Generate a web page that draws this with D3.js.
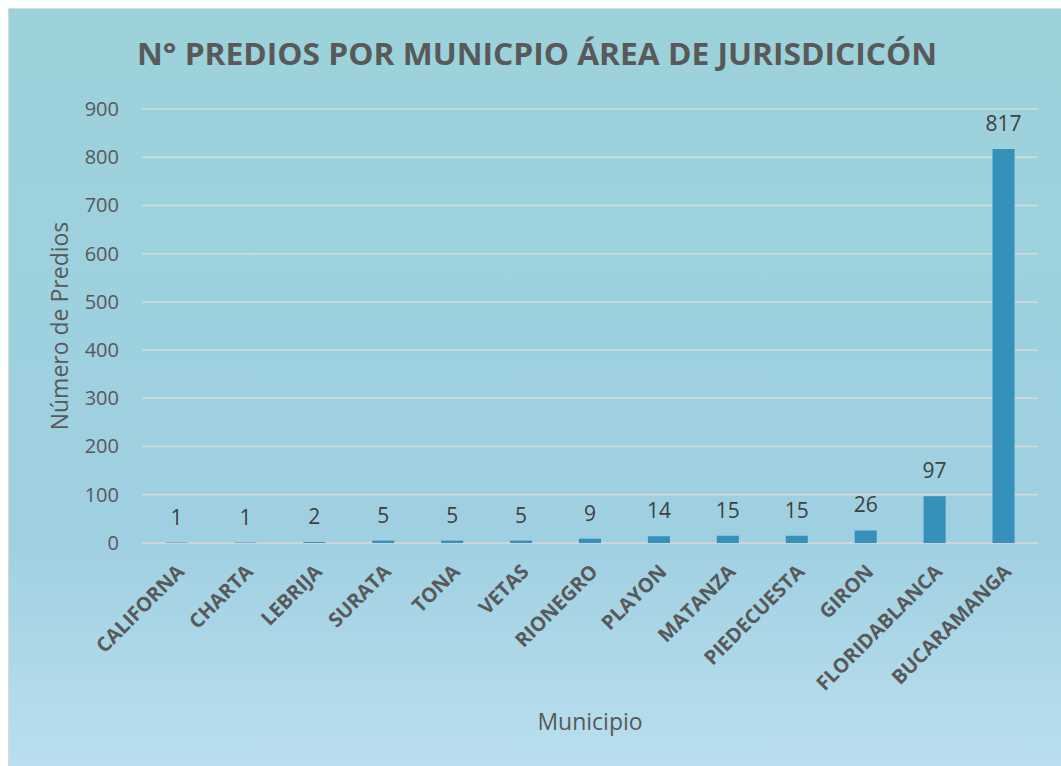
<!DOCTYPE html>
<html>
<head>
<meta charset="utf-8">
<script src="https://cdn.jsdelivr.net/npm/d3@7"></script>
<style>
  body { margin: 0; background: #fff; }
  svg { display: block; }
</style>
</head>
<body>
<div id="chart"></div>
<script>
// data
var municipios = ["CALIFORNA", "CHARTA", "LEBRIJA", "SURATA", "TONA", "VETAS", "RIONEGRO",
  "PLAYON", "MATANZA", "PIEDECUESTA", "GIRON", "FLORIDABLANCA", "BUCARAMANGA"];
var predios = [1, 1, 2, 5, 5, 5, 9, 14, 15, 15, 26, 97, 817];
var yTicks = [0, 100, 200, 300, 400, 500, 600, 700, 800, 900];

var W = 1061, H = 766;
var margin = {top: 109, right: 23, bottom: 223, left: 142};
var width = W - margin.left - margin.right,
    height = H - margin.top - margin.bottom;

var svg = d3.select("#chart").append("svg")
  .attr("width", W)
  .attr("height", H);

var grad = svg.append("defs").append("linearGradient")
  .attr("id", "bg").attr("x1", 0).attr("y1", 0).attr("x2", 0).attr("y2", 1);
grad.append("stop").attr("offset", "0%").attr("stop-color", "#9cd2da");
grad.append("stop").attr("offset", "70%").attr("stop-color", "#9fd0e2");
grad.append("stop").attr("offset", "100%").attr("stop-color", "#badfee");

svg.append("rect")
  .attr("x", 8.5).attr("y", 8.5)
  .attr("width", W - 8).attr("height", H - 8)
  .attr("fill", "url(#bg)")
  .attr("stroke", "#d9d9d9");

var g = svg.append("g")
  .attr("transform", `translate(${margin.left}, ${margin.top})`);

var x = d3.scaleBand()
  .domain(municipios)
  .range([0, width])
  .paddingInner(0.68)
  .paddingOuter(0.34);

var y = d3.scaleLinear()
  .domain([0, 900])
  .range([height, 0]);

// gridlines
g.append("g")
  .selectAll("line")
  .data(yTicks)
  .join("line")
    .attr("x1", 0).attr("x2", width)
    .attr("y1", d => y(d)).attr("y2", d => y(d))
    .attr("stroke", "#d9d9d9")
    .attr("stroke-width", 1.5);

// y axis
var yAxis = g.append("g")
  .call(d3.axisLeft(y).tickValues(yTicks).tickSize(0).tickPadding(23));
yAxis.select(".domain").remove();
yAxis.selectAll("text")
  .attr("fill", "#595959")
  .style("font-family", "Open Sans")
  .style("font-size", "20px");

// bars
g.append("g")
  .selectAll("rect")
  .data(predios)
  .join("rect")
    .attr("x", (d, i) => x(municipios[i]))
    .attr("y", d => y(d))
    .attr("width", x.bandwidth())
    .attr("height", d => height - y(d))
    .attr("fill", "#3591b9");

// value labels
g.append("g")
  .selectAll("text")
  .data(predios)
  .join("text")
    .attr("x", (d, i) => x(municipios[i]) + x.bandwidth() / 2)
    .attr("y", d => y(d) - 18)
    .attr("text-anchor", "middle")
    .attr("fill", "#404040")
    .style("font-family", "Open Sans")
    .style("font-size", "21px")
    .text(d => d);

// x axis labels
var xAxis = g.append("g")
  .attr("transform", `translate(0, ${height})`)
  .call(d3.axisBottom(x).tickSize(0).tickPadding(0));
xAxis.select(".domain").remove();
xAxis.selectAll("text")
  .attr("text-anchor", "end")
  .attr("dy", null)
  .attr("transform", "translate(9, 30) rotate(-45)")
  .attr("fill", "#595959")
  .style("font-family", "Open Sans")
  .style("font-weight", "bold")
  .style("font-size", "20px");

// title
svg.append("text")
  .attr("x", 537).attr("y", 65)
  .attr("text-anchor", "middle")
  .attr("fill", "#595959")
  .attr("textLength", 800)
  .attr("lengthAdjust", "spacingAndGlyphs")
  .style("font-family", "Open Sans")
  .style("font-weight", "bold")
  .style("font-size", "31px")
  .text("N° PREDIOS POR MUNICPIO ÁREA DE JURISDICICÓN");

// axis titles
svg.append("text")
  .attr("transform", "translate(68, 326) rotate(-90)")
  .attr("text-anchor", "middle")
  .attr("fill", "#595959")
  .style("font-family", "Open Sans")
  .style("font-size", "23px")
  .text("Número de Predios");

svg.append("text")
  .attr("x", 590).attr("y", 730)
  .attr("text-anchor", "middle")
  .attr("fill", "#595959")
  .style("font-family", "Open Sans")
  .style("font-size", "23px")
  .text("Municipio");
</script>
</body>
</html>
